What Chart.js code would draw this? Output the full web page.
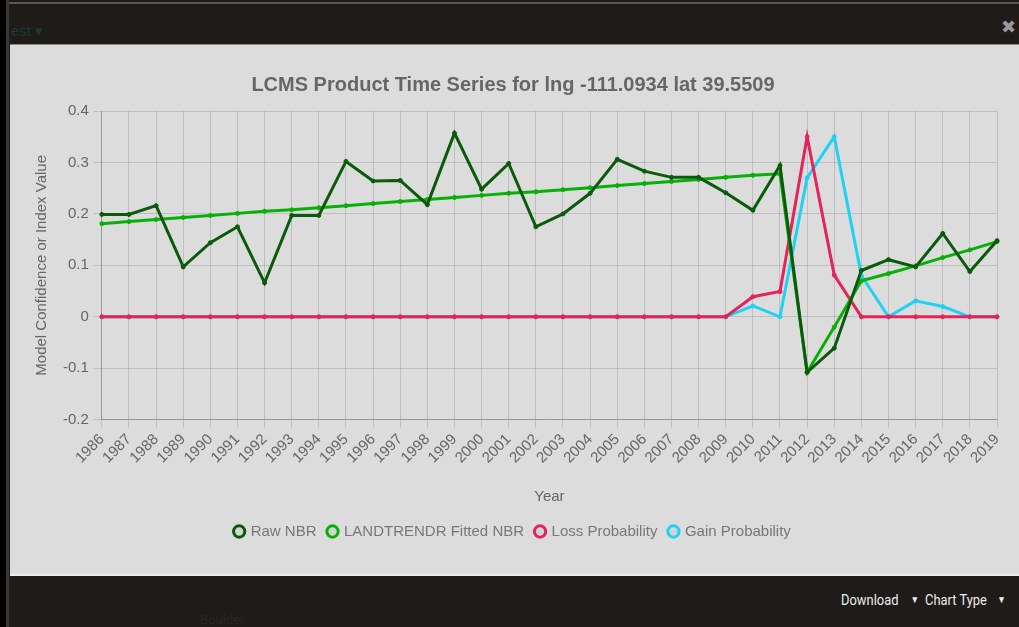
<!DOCTYPE html>
<html>
<head>
<meta charset="utf-8">
<title>LCMS Product Time Series</title>
<script src="https://cdn.jsdelivr.net/npm/chart.js@4.4.0/dist/chart.umd.min.js"></script>
<style>
  html, body {
    margin: 0;
    padding: 0;
    width: 1019px;
    height: 627px;
    overflow: hidden;
    background: #1f1b18;
    font-family: "Liberation Sans", Arial, sans-serif;
  }
  #edge {
    position: absolute; left: 0; top: 0; width: 6px; height: 627px; background: #000;
  }
  #edge2 {
    position: absolute; left: 6px; top: 0; width: 3px; height: 627px; background: #3a3836;
  }
  #topline {
    position: absolute; left: 9px; top: 2px; width: 1010px; height: 2px; background: #5a5856;
  }
  #panel {
    position: absolute; left: 10px; top: 44px; width: 1009px; height: 531px;
    background: #dcdcdc; border-top: 1px solid #8a8a8a; box-sizing: border-box;
  }
  #panelBottom {
    position: absolute; left: 10px; top: 574px; width: 1009px; height: 2px; background: #e8eef2;
  }
  #close {
    position: absolute; left: 1001px; top: 16px; color: #9a9a9a; font-weight: bold; font-size: 18px;
    font-family: "DejaVu Sans", sans-serif;
  }
  #menu {
    position: absolute; left: 841px; top: 591px; color: #ececec; font-size: 15px;
    font-family: "Roboto", sans-serif; transform: scaleX(0.86); transform-origin: left top;
    white-space: nowrap;
  }
  #menu span.caret { font-size: 10px; position: relative; top: -2px; }
  .ghost { position: absolute; color: #1c3a38; font-size: 15px; }
  .ghost2 { position: absolute; color: #2a2622; font-size: 13px; font-family: "Roboto", sans-serif; }
</style>
</head>
<body>
<div id="edge"></div>
<div id="edge2"></div>
<div id="topline"></div>
<div class="ghost" style="left:11px; top:22px;">est ▾</div>
<div class="ghost2" style="left:200px; top:612px;">Boulder</div>
<div id="close">✖</div>
<div id="panel">
  <canvas id="my-chart" width="1009" height="530"></canvas>
</div>
<div id="panelBottom"></div>
<div id="menu">Download<span class="caret" style="margin:0 7px 0 14px">▼</span>Chart Type<span class="caret" style="margin-left:12px">▼</span></div>

<script>
'use strict';

// years on the x axis
let years = ['1986', '1987', '1988', '1989', '1990', '1991', '1992', '1993', '1994', '1995',
  '1996', '1997', '1998', '1999', '2000', '2001', '2002', '2003', '2004', '2005',
  '2006', '2007', '2008', '2009', '2010', '2011', '2012', '2013', '2014', '2015',
  '2016', '2017', '2018', '2019'];

// series
let rawNBR = [0.199, 0.199, 0.216, 0.097, 0.144, 0.175, 0.066, 0.197, 0.197, 0.302,
  0.264, 0.265, 0.218, 0.357, 0.248, 0.298, 0.175, 0.200, 0.240, 0.306,
  0.283, 0.271, 0.271, 0.241, 0.207, 0.294, -0.108, -0.061, 0.090, 0.111,
  0.097, 0.162, 0.088, 0.148];

let fittedNBR = [0.181, 0.185, 0.189, 0.193, 0.197, 0.201, 0.205, 0.208, 0.212, 0.216,
  0.220, 0.224, 0.228, 0.232, 0.236, 0.240, 0.243, 0.247, 0.251, 0.255,
  0.259, 0.263, 0.267, 0.271, 0.275, 0.278, -0.108, -0.020, 0.070, 0.084,
  0.099, 0.115, 0.130, 0.146];

let lossProb = [0, 0, 0, 0, 0, 0, 0, 0, 0, 0,
  0, 0, 0, 0, 0, 0, 0, 0, 0, 0,
  0, 0, 0, 0, 0.039, 0.049, 0.350, 0.081, 0, 0,
  0, 0, 0, 0];

let gainProb = [0, 0, 0, 0, 0, 0, 0, 0, 0, 0,
  0, 0, 0, 0, 0, 0, 0, 0, 0, 0,
  0, 0, 0, 0, 0.021, 0, 0.270, 0.350, 0.080, 0,
  0.031, 0.020, 0, 0];

let seriesNames = ['Raw NBR', 'LANDTRENDR Fitted NBR', 'Loss Probability', 'Gain Probability'];
let seriesColors = ['#0b5a0b', '#06b006', '#e3245a', '#20d2f2'];

// y axis limits
let yMin = -0.2;
let yMax = 0.4;
let yStep = 0.1;

let chartTitle = 'LCMS Product Time Series for lng -111.0934 lat 39.5509';

let ctx = document.getElementById('my-chart');

Chart.defaults.font.family = '"Liberation Sans", Arial, sans-serif';
Chart.defaults.font.size = 15;
Chart.defaults.color = '#666';

function makeDataset(i, values) {
  return {
    label: seriesNames[i],
    data: values,
    borderColor: seriesColors[i],
    backgroundColor: '#dcdcdc',
    pointBackgroundColor: seriesColors[i],
    pointBorderColor: seriesColors[i],
    borderWidth: 3,
    pointRadius: 2,
    pointBorderWidth: 1,
    tension: 0,
    fill: false
  };
}

// legend rings: coloured outline, panel grey inside
function legendLabels(chart) {
  let items = Chart.defaults.plugins.legend.labels.generateLabels(chart);
  items.forEach(function(item, i) {
    item.fillStyle = '#d4d4d4';
    item.strokeStyle = seriesColors[i];
    item.lineWidth = 3;
  });
  return items;
}

let chartObject = {
  type: 'line',
  data: {
    labels: years,
    datasets: [
      makeDataset(0, rawNBR),
      makeDataset(1, fittedNBR),
      makeDataset(2, lossProb),
      makeDataset(3, gainProb)
    ]
  },
  options: {
    responsive: false,
    animation: false,
    devicePixelRatio: 1,
    layout: {
      padding: { left: 19, right: 22, top: 28, bottom: 26 }
    },
    plugins: {
      title: {
        display: true,
        text: chartTitle,
        font: { size: 20, weight: 'bold' },
        color: '#666',
        padding: { top: 0, bottom: 14 }
      },
      legend: {
        position: 'bottom',
        labels: {
          usePointStyle: true,
          pointStyle: 'circle',
          boxWidth: 8,
          boxHeight: 8,
          padding: 12,
          font: { size: 15 },
          color: '#777',
          generateLabels: legendLabels
        }
      },
      tooltip: { enabled: false }
    },
    scales: {
      x: {
        offset: false,
        grid: { color: 'rgba(0,0,0,0.13)', tickLength: 8 },
        border: { color: 'rgba(0,0,0,0.22)' },
        ticks: { maxRotation: 45, minRotation: 45, autoSkip: false, color: '#666', font: { size: 15 } },
        title: { display: true, text: 'Year', color: '#666', font: { size: 15 }, padding: { top: 18, bottom: 6 } }
      },
      y: {
        min: yMin,
        max: yMax,
        grid: { color: 'rgba(0,0,0,0.13)', tickLength: 8 },
        border: { color: 'rgba(0,0,0,0.22)' },
        ticks: {
          stepSize: yStep,
          padding: 5,
          color: '#666',
          font: { size: 15 },
          callback: function(value) {
            return String(Number(value.toFixed(1)));
          }
        },
        title: { display: true, text: 'Model Confidence or Index Value', color: '#666', font: { size: 15 }, padding: { top: 4, bottom: 7 } }
      }
    }
  }
};

const myChart = new Chart(ctx, chartObject);
</script>
</body>
</html>
